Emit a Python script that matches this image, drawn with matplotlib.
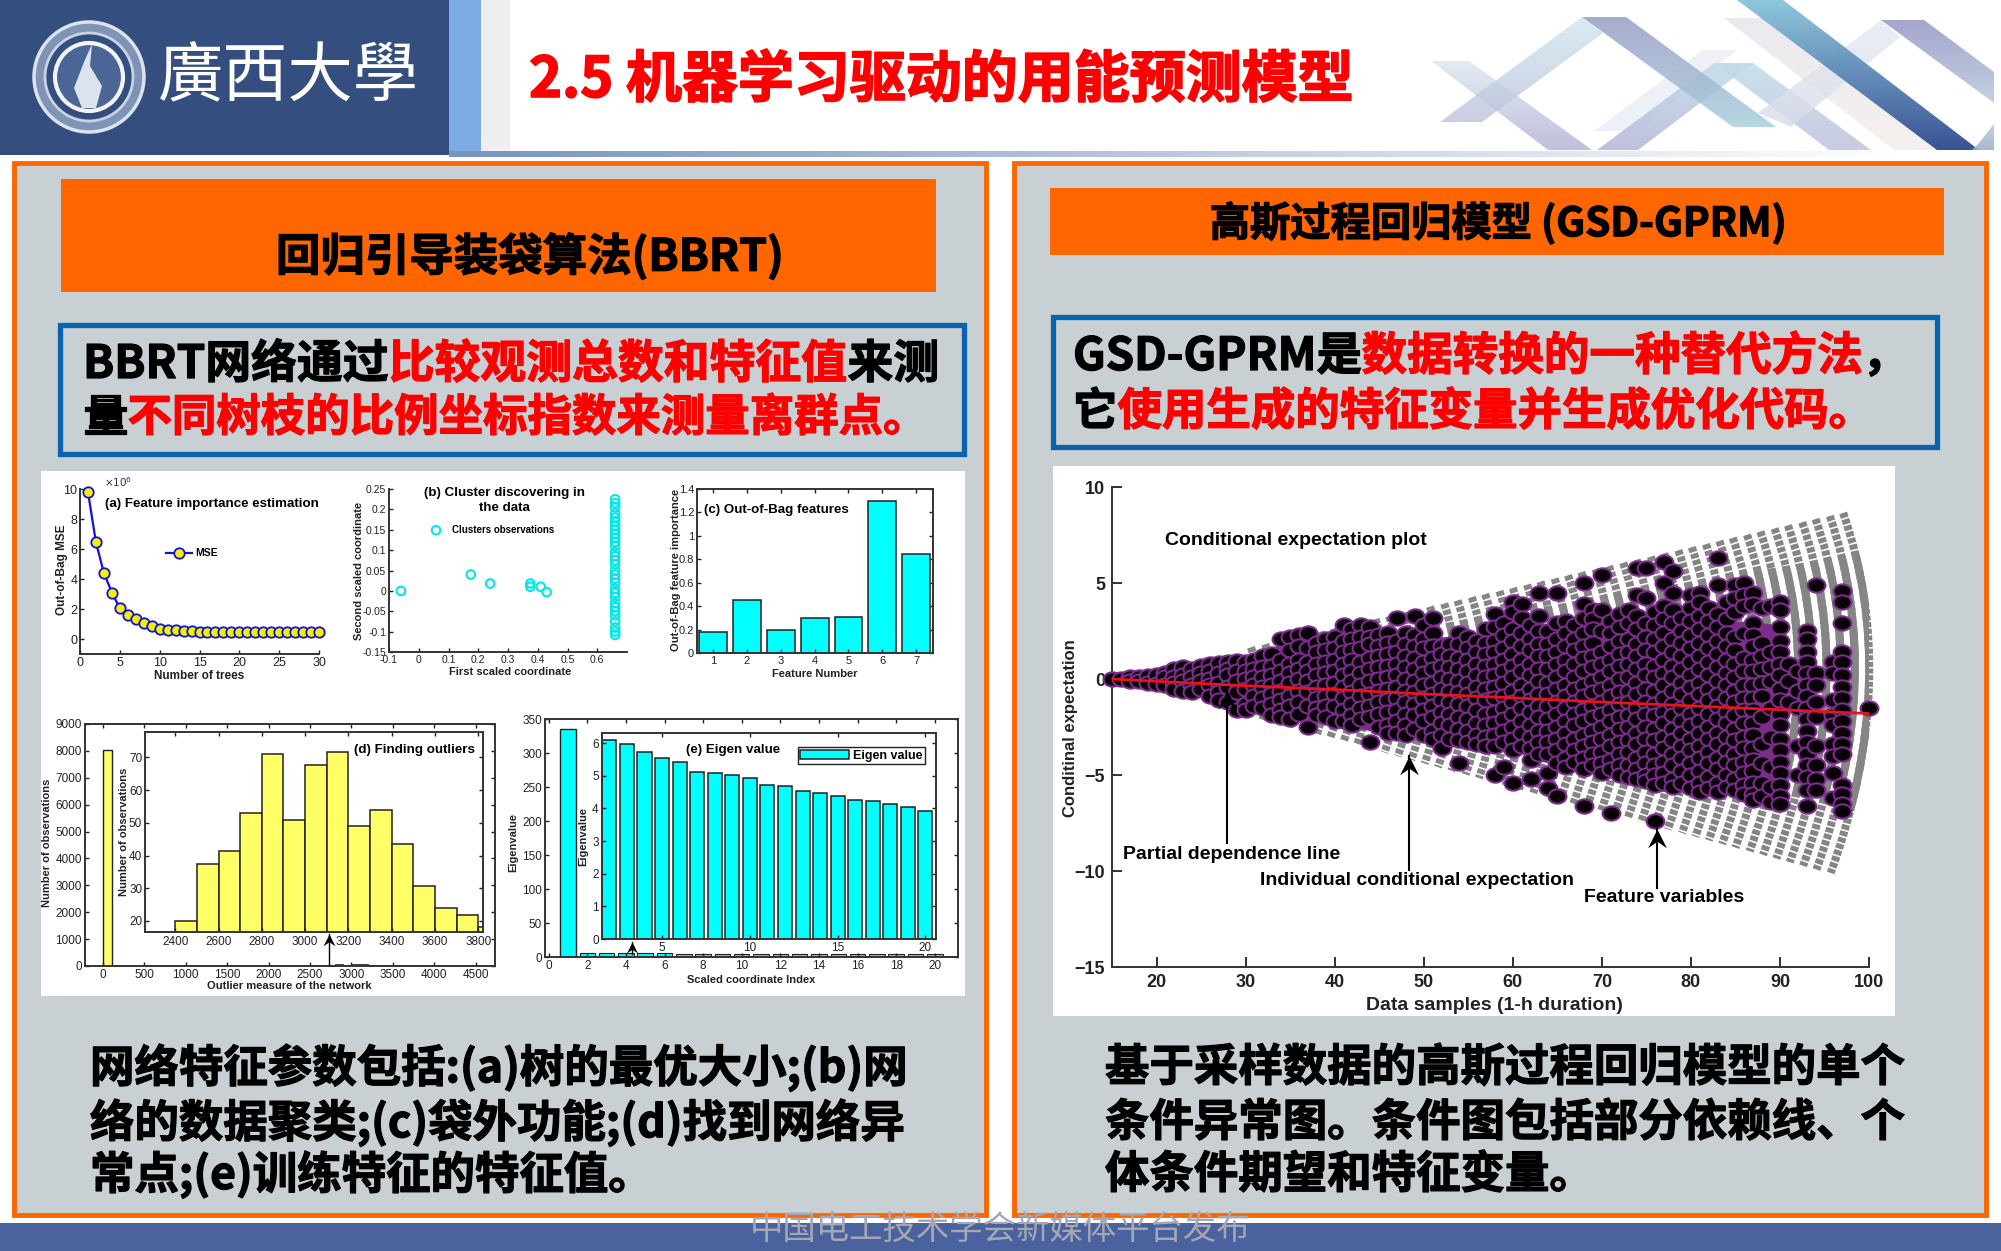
import numpy as np
import matplotlib
matplotlib.use("Agg")
from matplotlib import pyplot as plt
from matplotlib import patheffects
from matplotlib.patches import Rectangle, Polygon, Circle, PathPatch
from matplotlib.path import Path

#----------Slide text----------#
title = "2.5 机器学习驱动的用能预测模型"
left_head = "回归引导装袋算法(BBRT)"
right_head = "高斯过程回归模型 (GSD-GPRM)"
left_box = [[("BBRT网络通过", "k"), ("比较观测总数和特征值", "r"), ("来测", "k")],
            [("量", "k"), ("不同树枝的比例坐标指数来测量离群点。", "r")]]
right_box = [[("GSD-GPRM是", "k"), ("数据转换的一种替代方法", "r"), ("，", "k")],
             [("它", "k"), ("使用生成的特征变量并生成优化代码。", "r")]]
left_foot = ["网络特征参数包括:(a)树的最优大小;(b)网",
             "络的数据聚类;(c)袋外功能;(d)找到网络异",
             "常点;(e)训练特征的特征值。"]
right_foot = ["基于采样数据的高斯过程回归模型的单个",
              "条件异常图。条件图包括部分依赖线、个",
              "体条件期望和特征变量。"]

#----------Panel data----------#
# (a) MSE, in units of 10^6
trees = list(range(1, 31))
mse = [9.8, 6.45, 4.4, 3.1, 2.05, 1.6, 1.35, 1.05, 0.85, 0.65, 0.62, 0.58, 0.55, 0.52, 0.5,
       0.5, 0.5, 0.5, 0.5, 0.5, 0.5, 0.5, 0.5, 0.5, 0.5, 0.5, 0.5, 0.5, 0.5, 0.5]

# (b) clusters
cluster_x = [-0.06, 0.175, 0.24, 0.375, 0.375, 0.41, 0.43]
cluster_y = [0.0, 0.04, 0.018, 0.018, 0.01, 0.01, -0.003]
column_x = 0.66
column_y = [0.225, 0.215, 0.205, 0.19, 0.18, 0.17, 0.16, 0.15, 0.14, 0.13, 0.12, 0.11, 0.095,
            0.085, 0.075, 0.065, 0.05, 0.04, 0.03, 0.02, 0.005, -0.005, -0.015, -0.03, -0.04,
            -0.05, -0.06, -0.075, -0.09, -0.1, -0.108]

# (c) out-of-bag importance
feature_no = [1, 2, 3, 4, 5, 6, 7]
importance = [0.18, 0.45, 0.2, 0.295, 0.305, 1.295, 0.845]

# (d) outliers
outlier_bins = [2400, 2500, 2600, 2700, 2800, 2900, 3000, 3100, 3200, 3300, 3400, 3500, 3600, 3700, 3800]
outlier_counts = [20, 37.3, 41.5, 53, 71, 51, 67.8, 71.8, 49, 54, 43.5, 30.7, 24, 21.7, 18]
first_bin = 8050

# (e) eigenvalues
eig_idx = list(range(2, 21))
eig_first = 336
eig_vals = [6.1, 5.98, 5.72, 5.54, 5.42, 5.12, 5.07, 5.02, 4.94, 4.73, 4.70, 4.53, 4.47, 4.39,
            4.27, 4.22, 4.14, 4.03, 3.93]

# conditional expectation plot, feature points per sample
ice_points = {
    15: [0.0], 16: [0.0], 17: [0.1, -0.1], 18: [0.1, -0.1], 19: [0.15, -0.2], 20: [0.2, -0.25],
    21: [0.3, 0.1, -0.3], 22: [0.5, 0.1, -0.2, -0.5], 23: [0.6, 0.2, -0.1, -0.6],
    24: [0.5, 0.1, -0.3, -0.7], 25: [0.7, 0.3, -0.1, -0.5], 26: [0.8, 0.4, 0, -0.3, -0.9],
    27: [0.85, 0.3, -0.2, -0.7, -1.1], 28: [0.9, 0.5, 0.2, -0.4, -1.2],
    29: [0.95, 0.4, -0.1, -0.7, -1.6], 30: [0.9, 0.4, 0, -0.5, -1.3, -1.6],
    31: [1.0, 0.5, 0.1, -0.3, -0.9, -1.4], 32: [1.2, 0.6, 0.1, -0.4, -1.0, -1.5],
    33: [1.3, 0.7, 0.2, -0.3, -0.8, -1.3, -1.9], 34: [2.1, 1.0, 0.4, -0.1, -0.6, -1.1, -1.6, -2.0],
    35: [2.2, 1.5, 0.8, 0.3, -0.2, -0.9, -1.4, -2.1], 36: [2.3, 1.7, 1.0, 0.5, 0, -0.6, -1.2, -1.8],
    37: [2.4, 1.6, 0.9, 0.4, -0.1, -0.7, -1.4, -2.5], 38: [1.9, 1.4, 0.8, 0.2, -0.4, -1, -1.5, -1.9],
    39: [2.1, 1.5, 0.9, 0.3, -0.3, -0.9, -1.4, -2.0], 40: [2.2, 1.6, 1.0, 0.4, -0.2, -0.8, -1.4, -2.2],
    41: [2.8, 2.0, 1.4, 0.8, 0.2, -0.4, -1, -1.6, -2.2],
    42: [2.6, 2.1, 1.5, 1.0, 0.4, -0.1, -0.7, -1.3, -1.9, -2.4],
    43: [2.8, 2.2, 1.6, 0.9, 0.3, -0.3, -0.9, -1.5, -2.1],
    44: [2.7, 2.2, 1.8, 1.1, 0.5, -0.1, -0.8, -1.4, -2.0, -3.3],
    45: [2.3, 1.7, 1.2, 0.6, 0, -0.6, -1.2, -1.8, -2.5],
    46: [2.4, 1.9, 1.3, 0.7, 0.1, -0.5, -1.1, -1.7, -2.4, -2.8],
    47: [3.2, 2.0, 1.4, 0.8, 0.2, -0.4, -1.0, -1.6, -2.2, -2.8],
    48: [2.4, 1.8, 1.2, 0.6, 0, -0.6, -1.2, -1.8, -2.4, -2.9],
    49: [3.3, 2.3, 1.7, 1.1, 0.5, -0.1, -0.7, -1.3, -1.9, -2.6],
    50: [2.8, 2.1, 1.6, 0.9, 0.3, -0.3, -1, -1.6, -2.2, -2.9],
    51: [3.2, 2.4, 1.7, 1.1, 0.5, -0.2, -0.8, -1.4, -2.0, -2.7, -3.1],
    52: [1.7, 1.3, 0.7, 0.1, -0.5, -1.1, -1.7, -2.3, -2.9, -3.6],
    53: [1.8, 1.2, 0.6, 0, -0.6, -1.2, -1.8, -2.4, -3.1],
    54: [2.4, 1.8, 1.1, 0.5, -0.1, -0.7, -1.3, -2, -2.6, -3.2, -4.4],
    55: [2.2, 1.6, 1, 0.4, -0.2, -0.8, -1.4, -2.1, -2.7, -3.3],
    56: [2.0, 1.4, 0.8, 0.2, -0.4, -1.0, -1.6, -2.3, -2.9, -3.4],
    57: [2.6, 1.9, 1.3, 0.7, 0.1, -0.5, -1.1, -1.8, -2.4, -3, -3.5],
    58: [3.4, 2.7, 2.0, 1.4, 0.8, 0.2, -0.4, -1, -1.7, -2.3, -2.9, -3.5, -5.0],
    59: [2.9, 2.3, 1.6, 1, 0.4, -0.2, -0.9, -1.5, -2.1, -2.7, -3.3, -4.6],
    60: [4.0, 3.5, 2.6, 2.0, 1.3, 0.7, 0.1, -0.6, -1.2, -1.8, -2.5, -3.1, -3.7, -5.4],
    61: [3.9, 3.2, 2.4, 1.7, 1, 0.4, -0.3, -0.9, -1.5, -2.2, -2.8, -3.5],
    62: [2.8, 2.1, 1.5, 0.8, 0.2, -0.5, -1.1, -1.7, -2.4, -3, -3.6, -4.2, -5.2],
    63: [4.5, 3.3, 2.5, 1.8, 1.2, 0.5, -0.1, -0.8, -1.4, -2, -2.7, -3.3, -3.9],
    64: [2.5, 1.8, 1.2, 0.5, -0.2, -0.8, -1.4, -2.1, -2.7, -3.3, -3.9, -4.9, -5.7],
    65: [4.5, 2.9, 2.1, 1.4, 0.8, 0.1, -0.5, -1.2, -1.8, -2.5, -3.1, -3.7, -4.4, -6.1],
    66: [3, 2.4, 1.7, 1, 0.4, -0.3, -0.9, -1.5, -2.2, -2.8, -3.4, -4.1, -4.6],
    67: [2.8, 2.1, 1.5, 0.8, 0.1, -0.5, -1.2, -1.8, -2.4, -3.1, -3.7, -4.3],
    68: [5.0, 3.9, 3.2, 2.4, 1.7, 1.1, 0.4, -0.3, -0.9, -1.6, -2.2, -2.9, -3.5, -4.1, -4.7, -6.6],
    69: [3.6, 3.1, 2.6, 1.9, 1.2, 0.6, -0.1, -0.7, -1.4, -2, -2.7, -3.3, -3.9, -4.5],
    70: [5.4, 3.6, 2.5, 1.4, 0.8, 0.1, -0.5, -1.2, -1.8, -2.5, -3.1, -3.8, -4.4, -4.9],
    71: [3.0, 2.4, 1.7, 1.0, 0.4, -0.3, -0.9, -1.6, -2.2, -2.9, -3.5, -4.2, -4.7, -7.0],
    72: [3.4, 2.7, 2, 1.3, 0.7, 0, -0.7, -1.3, -2, -2.6, -3.3, -3.9, -4.5, -5],
    73: [3.6, 2.9, 2.1, 1.4, 0.8, 0.1, -0.6, -1.2, -1.9, -2.5, -3.2, -3.8, -4.5, -5.1],
    74: [5.8, 4.4, 3.3, 2.6, 1.8, 1.2, 0.5, -0.2, -0.8, -1.5, -2.1, -2.8, -3.4, -4.1, -4.7, -5.2],
    75: [5.8, 4.2, 2.9, 2.2, 1.5, 0.8, 0.2, -0.5, -1.2, -1.8, -2.5, -3.1, -3.8, -4.4, -5, -5.3],
    76: [3.5, 2.8, 2.1, 1.4, 0.7, 0.1, -0.6, -1.3, -1.9, -2.6, -3.2, -3.9, -4.5, -5, -5.5, -7.4],
    77: [6.1, 5, 3.8, 3.1, 2.4, 1.7, 1, 0.3, -0.3, -1, -1.7, -2.3, -3, -3.6, -4.3, -4.9, -5.4],
    78: [5.6, 4.5, 3.6, 2.9, 2.1, 1.4, 0.7, 0.1, -0.6, -1.3, -1.9, -2.6, -3.2, -3.9, -4.5, -5.2, -5.6],
    79: [3.2, 2.5, 1.9, 1.2, 0.5, -0.2, -0.8, -1.5, -2.2, -2.8, -3.5, -4.1, -4.8, -5.4],
    80: [4.4, 3.7, 3, 2.3, 1.6, 0.9, 0.2, -0.4, -1.1, -1.8, -2.4, -3.1, -3.7, -4.4, -5, -5.7],
    81: [4.5, 4, 3.3, 2.6, 1.9, 1.2, 0.5, -0.2, -0.8, -1.5, -2.2, -2.8, -3.5, -4.1, -4.8, -5.4, -5.9],
    82: [3.7, 3, 2.3, 1.6, 0.9, 0.2, -0.5, -1.1, -1.8, -2.5, -3.1, -3.8, -4.4, -5.1, -5.7],
    83: [6.3, 4.9, 3.4, 2.7, 2, 1.3, 0.6, -0.1, -0.8, -1.4, -2.1, -2.8, -3.4, -4.1, -4.7, -5.4, -5.9],
    84: [4, 3.1, 2.4, 1.7, 1, 0.3, -0.3, -1, -1.7, -2.3, -3, -3.7, -4.3, -5, -5.6],
    85: [4.9, 4.2, 3.5, 2.2, 1.5, 0.8, 0.1, -0.6, -1.2, -1.9, -2.6, -3.2, -3.9, -4.5, -5.2, -5.8],
    86: [5, 4.4, 3.8, 2.4, 1.1, 0.4, -0.3, -1, -1.6, -2.3, -3, -3.6, -4.3, -4.9, -5.5, -6],
    87: [4.5, 3.9, 2.9, 2.3, 1.7, 1, 0.4, -0.3, -1, -1.6, -2.3, -2.9, -3.6, -4.2, -4.8, -5.4, -6, -6.3],
    88: [3.7, 1.9, 1.2, 0.5, -0.2, -0.9, -2, -3.4, -4.4, -5.4, -6.1],
    89: [3.8, 1.4, 0.6, -0.1, -1.5, -3, -4.6, -5.6, -6.4],
    90: [4, 3.6, 2.7, 2.0, 1.4, 0.8, 0.2, -0.5, -1.1, -1.8, -2.4, -3.1, -3.7, -4.3, -4.9, -5.5, -6.1, -6.5],
    91: [0.8, -0.1, -1.2],
    92: [0.4, -0.6, -1.5, -3.5, -5],
    93: [2.5, 2.1, 1.4, 0.9, 0.3, -0.3, -0.9, -1.5, -2.1, -2.7, -3.3, -3.9, -4.5, -5.1, -5.8, -6.6],
    94: [4.9, 0.3, -0.3, -1.2, -2, -3.5, -4.5, -5.2, -5.8],
    96: [0.9, 0.3, -1.1, -1.9, -2.4, -3.4, -4, -4.9, -6.2],
    97: [4.6, 4, 2.9, 1.4, 0.9, 0.2, -0.4, -1, -1.6, -2.2, -2.8, -3.4, -3.9, -5.5, -6, -6.5, -6.9],
    100: [-1.5],
}

# body of the point cloud
cloud_x = [16, 20, 25, 30, 35, 40, 45, 50, 55, 60, 65, 70, 75, 80, 85, 87, 90]
cloud_top = [0.1, 0.5, 0.9, 1.1, 2.0, 2.2, 2.3, 2.2, 2.2, 2.6, 2.6, 2.6, 3, 3, 3, 3, 2.8]
cloud_low = [-0.1, -0.4, -0.9, -1.6, -2, -2.3, -2.8, -3, -3.5, -3.8, -4.3, -4.8, -5.2, -5.7, -6, -6.3, -6.5]

# partial dependence line
pd_x = [15, 20, 30, 40, 50, 60, 70, 80, 90, 100]
pd_y = [0, -0.12, -0.35, -0.55, -0.78, -0.98, -1.2, -1.4, -1.6, -1.8]

# grey arcs of the fan: tip, control and bottom of each curve
arc_x_top = [97.1, 95.6, 94.0, 92.5, 90.9, 89.4, 87.8, 86.3, 84.7, 83.2, 81.7, 80.1, 78.6, 77.0, 75.5,
             73.9, 72.4, 70.8, 69.3, 67.7, 66.2, 64.7, 63.1, 61.6, 60.0, 58.5, 56.9, 55.4, 53.8, 52.3,
             50.7, 49.2, 47.7, 46.1, 44.6, 43.0, 41.5, 39.9, 38.4, 36.8, 35.3, 33.7, 32.2, 30.6]
arc_y_top = [8.65, 8.49, 8.33, 8.16, 8.00, 7.84, 7.68, 7.51, 7.35, 7.19, 7.02, 6.86, 6.70, 6.54, 6.37,
             6.21, 6.05, 5.88, 5.72, 5.56, 5.40, 5.23, 5.07, 4.91, 4.74, 4.58, 4.42, 4.26, 4.09, 3.93,
             3.77, 3.60, 3.44, 3.28, 3.12, 2.95, 2.79, 2.63, 2.46, 2.30, 2.14, 1.97, 1.81, 1.65]
arc_x_ctrl = [103.6, 101.9, 100.3, 98.6, 96.9, 95.3, 93.6, 91.9, 90.3, 88.6, 86.9, 85.3, 83.6, 81.9, 80.3,
              78.6, 76.9, 75.3, 73.6, 71.9, 70.3, 68.6, 66.9, 65.2, 63.6, 61.9, 60.2, 58.6, 56.9, 55.2,
              53.6, 51.9, 50.2, 48.6, 46.9, 45.2, 43.6, 41.9, 40.2, 38.6, 36.9, 35.2, 33.6, 31.9]
arc_x_bot = [95.7, 94.1, 92.6, 91.1, 89.6, 88.1, 86.6, 85.0, 83.5, 82.0, 80.5, 79.0, 77.4, 75.9, 74.4,
             72.9, 71.4, 69.9, 68.3, 66.8, 65.3, 63.8, 62.3, 60.7, 59.2, 57.7, 56.2, 54.7, 53.1, 51.6,
             50.1, 48.6, 47.1, 45.6, 44.0, 42.5, 41.0, 39.5, 38.0, 36.4, 34.9, 33.4, 31.9, 30.4]
arc_y_bot = [-10.1, -9.92, -9.73, -9.54, -9.35, -9.16, -8.97, -8.78, -8.59, -8.40, -8.21, -8.02, -7.83,
             -7.64, -7.45, -7.26, -7.07, -6.88, -6.69, -6.50, -6.31, -6.12, -5.93, -5.74, -5.55, -5.36,
             -5.16, -4.97, -4.78, -4.59, -4.40, -4.21, -4.02, -3.83, -3.64, -3.45, -3.26, -3.07, -2.88,
             -2.69, -2.50, -2.31, -2.12, -1.93]
# arcs are solid inside this wedge, dashed outside it
solid_x = [15, 110, 110]
solid_y = [0, 7.4, -7.6]

#----------Figure----------#
W, H = 2001, 1251
CJK = ["Noto Sans CJK SC", "DejaVu Sans"]
plt.rcParams["font.family"] = ["Liberation Sans", "DejaVu Sans"]
plt.rcParams["axes.linewidth"] = 1.4
plt.rcParams["axes.edgecolor"] = "#333333"
plt.rcParams["xtick.direction"] = "in"
plt.rcParams["ytick.direction"] = "in"

fig = plt.figure(figsize=(W / 100, H / 100), dpi=100, facecolor="white")
bg = fig.add_axes([0, 0, 1, 1])
bg.set_xlim(0, W)
bg.set_ylim(H, 0)
bg.axis("off")
bg.set_autoscale_on(False)


def rect(x0, y0, x1, y1, face, edge="none", lw=0, z=1):
    bg.add_patch(Rectangle((x0, y0), x1 - x0, y1 - y0, facecolor=face, edgecolor=edge, linewidth=lw, zorder=z))


def ribbon(pts, c0, c1, alpha):
    # polygon with a top to bottom colour fade
    xs = [p[0] for p in pts]
    ys = [p[1] for p in pts]
    c0 = np.array(matplotlib.colors.to_rgb(c0))
    c1 = np.array(matplotlib.colors.to_rgb(c1))
    t = np.linspace(0, 1, 64)[:, None]
    rgb = c0 * (1 - t) + c1 * t
    arr = np.concatenate([rgb, np.full((64, 1), alpha)], axis=1)[:, None, :]
    im = bg.imshow(arr, extent=(min(xs), max(xs), max(ys), min(ys)), aspect="auto", zorder=2)
    im.set_clip_path(Polygon(pts, transform=bg.transData))


def heavy(t, color="black", w=0.9):
    # the slide text is a shade heavier than the bold face
    t.set_path_effects([patheffects.withStroke(linewidth=w, foreground=color)])
    return t


def line_text(x, y, parts, size):
    # runs of different colour on one line
    rend = fig.canvas.get_renderer()
    colors = {"k": "black", "r": "#FF0000"}
    for s, c in parts:
        t = bg.text(x, y, s, color=colors[c], fontsize=size, fontweight="bold", family=CJK,
                    va="center", ha="left", zorder=5)
        x += t.get_window_extent(rend).width
        heavy(t, colors[c])


def panel(x0, y0, x1, y1):
    a = fig.add_axes([x0 / W, 1 - y1 / H, (x1 - x0) / W, (y1 - y0) / H])
    a.patch.set_alpha(0)
    a.tick_params(labelsize=9, length=3, width=1, pad=2, colors="#222222")
    return a


def labels(a, box, xlab, xpos, ylab, ypos, size=8.5):
    x0, y0, x1, y1 = box
    if xlab:
        a.set_xlabel(xlab, fontsize=size, fontweight="bold", color="#222222", va="center")
        a.xaxis.set_label_coords((xpos[0] - x0) / (x1 - x0), (y1 - xpos[1]) / (y1 - y0))
    if ylab:
        a.set_ylabel(ylab, fontsize=size, fontweight="bold", color="#222222", va="center")
        a.yaxis.set_label_coords((ypos[0] - x0) / (x1 - x0), (y1 - ypos[1]) / (y1 - y0))


def arrow(a, x, y0, y1, size, lw=1.5):
    # shaft from y0 up to a notched head at y1
    head = Path([(0, 0), (-0.5, -1), (0, -0.65), (0.5, -1), (0, 0)],
                [Path.MOVETO, Path.LINETO, Path.LINETO, Path.LINETO, Path.CLOSEPOLY])
    a.plot([x, x], [y0, y1], color="black", lw=lw, zorder=8, clip_on=False)
    a.plot([x], [y1], marker=head, markersize=size, color="black", mew=0, zorder=8, clip_on=False)


#----------Header----------#
rect(0, 0, 449, 155, "#344E7F")
rect(449, 0, 481, 155, "#7CACE3")
rect(481, 0, 510, 152, "#EFEFEF")
grad = np.linspace(0, 1, 256)[None, :, None]
bar = np.concatenate([np.array([[[0.47, 0.58, 0.75]]]) * (1 - grad) + grad, np.ones((1, 256, 1))], axis=2)
bg.imshow(bar, extent=(449, 1900, 157, 151), aspect="auto", zorder=1)

# seal and calligraphy
for r, f, e, lw in [(55, "#7F93B5", "#DDE3EE", 2.5), (44, "#344E7F", "#C9D3E4", 2),
                    (34, "#4A6596", "#F2F4F8", 3)]:
    bg.add_patch(Circle((89, 77), r, facecolor=f, edgecolor=e, linewidth=lw, zorder=3))
bg.add_patch(Polygon([(82, 108), (74, 88), (84, 62), (92, 44), (90, 66), (102, 86), (96, 108)],
                     facecolor="#DCE3EF", edgecolor="none", zorder=4))
bg.text(288, 77, "廣西大學", color="white", fontsize=47, family=["Noto Sans CJK TC", "DejaVu Sans"],
        fontweight="light", ha="center", va="center", zorder=4)

heavy(bg.text(529, 81, title, color="#FF0000", fontsize=40.3, fontweight="bold", family=CJK,
              ha="left", va="center", zorder=5), "#FF0000", 1.2)

# ribbons at top right
ribbon([(1431, 61), (1469, 61), (1592, 150), (1548, 150)], "#DDE9F1", "#B5B5D8", 0.85)
ribbon([(1440, 122), (1482, 122), (1603, 33), (1582, 17)], "#CFE6EE", "#BFC2DC", 0.8)
ribbon([(1594, 131), (1638, 131), (1737, 50), (1703, 50)], "#EDEEF5", "#E6EEF4", 0.8)
ribbon([(1597, 150), (1638, 150), (1753, 63), (1714, 63)], "#C0DCE8", "#B5B5D8", 0.85)
ribbon([(1582, 17), (1626, 17), (1776, 127), (1733, 127)], "#9A9CC6", "#A8D0DC", 0.85)
ribbon([(1714, 63), (1753, 63), (1871, 150), (1829, 150)], "#BFDDE8", "#BFC2DC", 0.85)
ribbon([(1724, 18), (1762, 18), (1937, 150), (1894, 150)], "#E8E6EF", "#F5EEEA", 0.85)
ribbon([(1758, 113), (1791, 127), (1900, 37), (1881, 20)], "#E4EAF2", "#D8DCEA", 0.8)
ribbon([(1881, 20), (1924, 20), (1994, 72), (1994, 103)], "#9A9CC6", "#BCCBE0", 0.9)
ribbon([(1737, 0), (1783, 0), (1979, 150), (1937, 150)], "#88C4DA", "#2F4A8F", 0.95)
ribbon([(1979, 143), (1994, 124), (1994, 150), (1972, 150)], "#C0CCE0", "#9FB0CE", 0.9)

#----------Slide panels----------#
for x0, x1 in [(14, 986), (1014, 1986)]:
    rect(x0, 163, x1, 1215, "#C8D0D4", "#FF6600", 3.5)
rect(0, 1223, W, H, "#4A639F", z=1)
bg.text(1000, 1229, "中国电工技术学会新媒体平台发布", color="#A5A8B4", fontsize=24, family=CJK,
        ha="center", va="center", zorder=5)

rect(61, 179, 936, 292, "#FF6600", z=2)
rect(1050, 188, 1944, 255, "#FF6600", z=2)
heavy(bg.text(530, 257, left_head, fontsize=32, fontweight="bold", family=CJK, ha="center", va="center", zorder=5))
heavy(bg.text(1498, 224, right_head, fontsize=29, fontweight="bold", family=CJK, ha="center", va="center", zorder=5))

rect(60, 325, 964, 454, "#C8D0D4", "#0A64AD", 3.8, z=2)
rect(1053, 317, 1937, 447, "#C8D0D4", "#0A64AD", 3.8, z=2)
line_text(83, 365, left_box[0], 33)
line_text(83, 418, left_box[1], 32)
line_text(1073, 357, right_box[0], 32.8)
line_text(1073, 412, right_box[1], 32)

rect(41, 471, 965, 996, "white", z=2)
rect(1053, 466, 1895, 1016, "white", z=2)

for y, a, b in zip([1068, 1123, 1175], left_foot, right_foot):
    heavy(bg.text(90, y, a, fontsize=32, fontweight="bold", family=CJK, ha="left", va="center", zorder=5))
    heavy(bg.text(1105, y, b, fontsize=32, fontweight="bold", family=CJK, ha="left", va="center", zorder=5))

#----------(a) Feature importance----------#
box = (80, 489, 319, 654)
ax = panel(*box)
ax.plot(trees, mse, color="#1010E0", lw=1.6, marker="o", ms=7.5, mfc="#F5F000", mec="#1010E0", mew=1.3,
        label="MSE", clip_on=False)
ax.set_xlim(0, 30)
ax.set_ylim(-1, 10)
ax.set_xticks(range(0, 31, 5))
ax.set_yticks(range(0, 11, 2))
ax.spines[["top", "right"]].set_visible(False)
labels(ax, box, "Number of trees", (199, 676), "Out-of-Bag MSE", (62, 570))
ax.text(0.1, 1.0, r"$\times10^{6}$", fontsize=7.5, transform=ax.transAxes, va="bottom", color="#333333")
ax.text(3.2, 9.0, "(a) Feature importance estimation", fontsize=9.6, fontweight="bold", va="center")
ax.legend(loc="center left", bbox_to_anchor=(0.32, 0.61), frameon=False, prop={"size": 7.5, "weight": "bold"},
          handlelength=2.5, handletextpad=0.3)

#----------(b) Clusters----------#
box = (389, 489, 627, 652)
ax = panel(*box)
ax.scatter(cluster_x, cluster_y, s=38, facecolor="none", edgecolor="#00E8E8", lw=1.5, label="Clusters observations")
ax.scatter([column_x] * len(column_y), column_y, s=38, facecolor="none", edgecolor="#00E8E8", lw=1.5)
ax.set_xlim(-0.1, 0.7)
ax.set_ylim(-0.15, 0.25)
ax.set_xticks([-0.1, 0, 0.1, 0.2, 0.3, 0.4, 0.5, 0.6])
ax.set_xticklabels(["-0.1", "0", "0.1", "0.2", "0.3", "0.4", "0.5", "0.6"])
ax.set_yticks([-0.15, -0.1, -0.05, 0, 0.05, 0.1, 0.15, 0.2, 0.25])
ax.set_yticklabels(["-0.15", "-0.1", "-0.05", "0", "0.05", "0.1", "0.15", "0.2", "0.25"])
ax.tick_params(labelsize=7.5)
ax.spines[["top", "right"]].set_visible(False)
labels(ax, box, "First scaled coordinate", (510, 672), "Second scaled coordinate", (359, 571), 8)
ax.text(0.485, 0.93, "(b) Cluster discovering in\nthe data", fontsize=9.6, fontweight="bold", ha="center", va="center",
        transform=ax.transAxes, linespacing=1.25)
ax.legend(loc="center left", bbox_to_anchor=(0.12, 0.75), frameon=False, prop={"size": 7, "weight": "bold"},
          handletextpad=0.6)

#----------(c) Out-of-bag----------#
box = (697, 489, 933, 653)
ax = panel(*box)
ax.bar(feature_no, importance, width=0.82, color="#00FFFF", edgecolor="#222222", lw=1.1)
ax.set_xlim(0.52, 7.5)
ax.set_ylim(0, 1.4)
ax.set_xticks(feature_no)
ax.set_yticks([0, 0.2, 0.4, 0.6, 0.8, 1, 1.2, 1.4])
ax.set_yticklabels(["0", "0.2", "0.4", "0.6", "0.8", "1", "1.2", "1.4"])
ax.tick_params(labelsize=8, top=True, right=True)
labels(ax, box, "Feature Number", (815, 674), "Out-of-Bag feature importance", (676, 570), 8)
ax.text(0.03, 0.875, "(c) Out-of-Bag features", fontsize=9.6, fontweight="bold", transform=ax.transAxes, va="center")

#----------(d) Outliers----------#
box = (84.5, 724, 495, 966)
ax = panel(*box)
ax.bar([55], [first_bin], width=110, color="#FFFF66", edgecolor="#222222", lw=1)
ax.bar(outlier_bins, outlier_counts, width=100, align="edge", color="#FFFF66", edgecolor="#222222", lw=0.6)
ax.set_xlim(-223, 4734)
ax.set_ylim(0, 9000)
ax.set_xticks(range(0, 4501, 500))
ax.set_yticks(range(0, 9001, 1000))
ax.tick_params(labelsize=8.5, top=True, right=True)
labels(ax, box, "Outlier measure of the network", (289, 986), "Number of observations", (47, 843), 8)
arrow(ax, 2730, 30, 1190, 17, lw=1)

box = (145, 732, 483, 932)
ax = panel(*box)
ax.bar(outlier_bins, outlier_counts, width=100, align="edge", color="#FFFF66", edgecolor="#222222", lw=1.1)
ax.set_xlim(2260, 3822)
ax.set_ylim(16.6, 77.8)
ax.set_xticks(range(2400, 3801, 200))
ax.set_yticks(range(20, 71, 10))
ax.tick_params(labelsize=8.5, top=True, right=True, labeltop=False, labelright=False)
ax.tick_params(axis="x", pad=3)
labels(ax, box, None, None, "Number of observations", (124, 832), 8)
ax.text(475, 750, "(d) Finding outliers", fontsize=9.6, fontweight="bold", ha="right", va="center",
        transform=bg.transData)

#----------(e) Eigenvalues----------#
box = (545, 719, 958, 957)
ax = panel(*box)
ax.bar([1], [eig_first], width=0.8, color="#00FFFF", edgecolor="#222222", lw=1)
ax.bar(eig_idx, eig_vals, width=0.8, color="#00FFFF", edgecolor="#222222", lw=0.8)
ax.set_xlim(-0.19, 21.2)
ax.set_ylim(0, 350)
ax.set_xticks(range(0, 21, 2))
ax.set_yticks(range(0, 351, 50))
ax.tick_params(labelsize=8.5, top=True, right=True)
labels(ax, box, "Scaled coordinate Index", (751, 980), "Eigenvalue", (513, 842), 8)
arrow(ax, 4.34, 5, 22, 16, lw=1)

box = (601.5, 733, 936, 939)
ax = panel(*box)
ax.bar(eig_idx, eig_vals, width=0.8, color="#00FFFF", edgecolor="#222222", lw=1.1, label="Eigen value")
ax.set_xlim(1.55, 20.6)
ax.set_ylim(0, 6.31)
ax.set_xticks([5, 10, 15, 20])
ax.set_yticks(range(0, 7))
ax.tick_params(labelsize=8.5, top=True, right=True, labeltop=False, labelright=False)
ax.tick_params(axis="x", pad=2)
labels(ax, box, None, None, "Eigenvalue", (583, 836), 8)
ax.text(733, 750, "(e) Eigen value", fontsize=9.6, fontweight="bold", ha="center", va="center", transform=bg.transData)
ax.legend(loc="upper right", bbox_to_anchor=(0.967, 0.932), borderaxespad=0, fancybox=False, framealpha=1,
          edgecolor="#222222", prop={"size": 9, "weight": "bold"}, handlelength=3.9, handletextpad=0.3,
          borderpad=0.2)

#----------Conditional expectation plot----------#
box = (1112, 487, 1869, 967)
ax = panel(*box)
ax.set_xlim(15, 100)
ax.set_ylim(-15, 10)

wedge = Polygon(list(zip(solid_x, solid_y)), transform=ax.transData)
for xt, yt, xc, xb, yb in zip(arc_x_top, arc_y_top, arc_x_ctrl, arc_x_bot, arc_y_bot):
    curve = Path([(xt, yt), (xc, 0), (xb, yb)], [Path.MOVETO, Path.CURVE3, Path.CURVE3])
    ax.add_patch(PathPatch(curve, fill=False, edgecolor="#858585", lw=5.8, capstyle="butt",
                           linestyle=(0, (0.62, 0.2)), zorder=1, clip_on=False))
    solid = ax.add_patch(PathPatch(curve, fill=False, edgecolor="#858585", lw=5.8, capstyle="butt", zorder=1))
    solid.set_clip_path(wedge)

ax.fill_between(cloud_x, cloud_low, cloud_top, color="#7B2D8B", lw=0, zorder=2)

# slightly flattened dots, the slide stretches the figure sideways
dot = Path.unit_circle().transformed(matplotlib.transforms.Affine2D().scale(1, 0.8))
for col, ys in ice_points.items():
    ax.scatter([col] * len(ys), ys, s=165, marker=dot, facecolor="#0A0008", edgecolor="#7B2D8B", lw=1.5,
               zorder=3, clip_on=False)

ax.plot(pd_x, pd_y, color="#E8141C", lw=2, zorder=4)
ax.set_xticks(range(20, 101, 10))
ax.set_yticks([-15, -10, -5, 0, 5, 10])
ax.tick_params(labelsize=13, length=7, width=1.3, labelcolor="#222222", direction="in", pad=5)
for t in ax.get_xticklabels() + ax.get_yticklabels():
    t.set_fontweight("bold")
ax.spines[["top", "right"]].set_visible(False)
labels(ax, box, "Data samples (1-h duration)", (1494, 1005), "Conditinal expectation", (1070, 728), 14)
ax.yaxis.label.set_fontsize(12)
ax.text(21, 7.2, "Conditional expectation plot", fontsize=14, fontweight="bold", va="center")
ax.text(16.25, -9.16, "Partial dependence line", fontsize=14, fontweight="bold", va="center")
ax.text(31.6, -10.5, "Individual conditional expectation", fontsize=14, fontweight="bold", va="center")
ax.text(68, -11.4, "Feature variables", fontsize=14, fontweight="bold", va="center")
arrow(ax, 27.9, -8.56, -0.55, 27)
arrow(ax, 48.4, -9.96, -4.0, 27)
arrow(ax, 76.2, -10.9, -7.8, 27)

fig.savefig("out.png", dpi=100)
